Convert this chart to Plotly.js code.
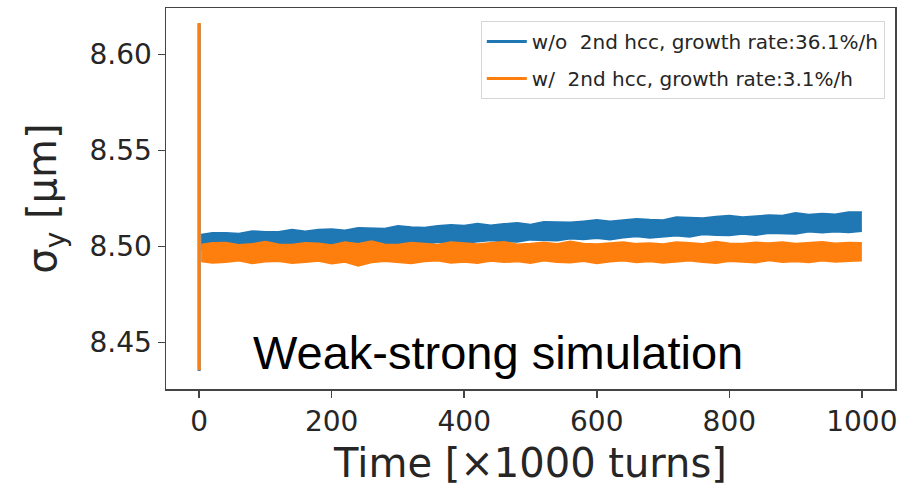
<!DOCTYPE html>
<html>
<head>
<meta charset="utf-8">
<script src="https://cdn.plot.ly/plotly-3.0.1.min.js"></script>
<style>html,body{margin:0;padding:0;background:#fff;}#chart{width:912px;height:496px;}</style>
</head>
<body>
<div id="chart"></div>
<script>
// Time samples [x1000 turns]
const time = [0,20,40,60,80,100,120,140,160,180,200,220,240,260,280,300,320,340,360,380,400,420,440,460,480,500,520,540,560,580,600,620,640,660,680,700,720,740,760,780,800,820,840,860,880,900,920,940,960,980,1000];
const bandStart = 3;

// w/o 2nd hcc : upper / lower envelope of the noisy trace (sigma_y, um)
const woUpper = [8.5063,8.5072,8.5072,8.5068,8.5081,8.5077,8.5077,8.5089,8.5080,8.5088,8.5091,8.5085,8.5098,8.5096,8.5094,8.5108,8.5101,8.5099,8.5108,8.5113,8.5109,8.5119,8.5111,8.5118,8.5123,8.5115,8.5129,8.5128,8.5126,8.5132,8.5139,8.5131,8.5138,8.5144,8.5140,8.5138,8.5154,8.5150,8.5148,8.5156,8.5161,8.5153,8.5160,8.5164,8.5161,8.5175,8.5167,8.5172,8.5168,8.5180,8.5180];
const woLower = [8.4984,8.4981,8.4992,8.4987,8.4986,8.4995,8.4994,8.5003,8.4993,8.5001,8.4999,8.5008,8.5006,8.5001,8.5013,8.5010,8.5016,8.5012,8.5023,8.5019,8.5017,8.5025,8.5032,8.5025,8.5024,8.5035,8.5033,8.5031,8.5041,8.5037,8.5043,8.5036,8.5046,8.5052,8.5045,8.5050,8.5056,8.5050,8.5063,8.5059,8.5058,8.5065,8.5059,8.5070,8.5067,8.5066,8.5077,8.5072,8.5077,8.5073,8.5080];

// w/ 2nd hcc : upper / lower envelope
const wUpper = [8.5011,8.5019,8.5021,8.5009,8.5014,8.5026,8.5012,8.5010,8.5020,8.5017,8.5008,8.5023,8.5015,8.5029,8.5012,8.5011,8.5021,8.5016,8.5010,8.5024,8.5018,8.5013,8.5019,8.5025,8.5012,8.5015,8.5022,8.5014,8.5027,8.5016,8.5013,8.5020,8.5024,8.5015,8.5018,8.5013,8.5023,8.5019,8.5014,8.5026,8.5017,8.5015,8.5022,8.5018,8.5024,8.5016,8.5020,8.5025,8.5017,8.5021,8.5019];
const wLower = [8.4923,8.4915,8.4919,8.4926,8.4912,8.4921,8.4924,8.4913,8.4918,8.4925,8.4911,8.4920,8.4899,8.4917,8.4924,8.4919,8.4912,8.4922,8.4926,8.4915,8.4920,8.4913,8.4925,8.4918,8.4922,8.4914,8.4927,8.4919,8.4916,8.4924,8.4912,8.4921,8.4926,8.4917,8.4923,8.4915,8.4920,8.4927,8.4918,8.4914,8.4924,8.4921,8.4916,8.4928,8.4919,8.4923,8.4917,8.4926,8.4920,8.4924,8.4927];

// Initial transient at t = 0
const spikeTime = [0,0,0];
const woSpike = [8.5030,8.6160,8.4353];
const wSpike = [8.4970,8.6163,8.4357];

const names = ['w/o\u00a0 2nd hcc, growth rate:36.1%/h', 'w/\u00a0 2nd hcc, growth rate:3.1%/h'];
const xTicks = [0,200,400,600,800,1000];
const yTicks = [8.45,8.50,8.55,8.60];

const blue = '#1f77b4', orange = '#ff7f0e';
const bx = time.map(t => Math.max(t, bandStart));

const traces = [
  {x: spikeTime, y: woSpike, mode:'lines', line:{color:blue, width:3}, name:names[0], legendgroup:'a', showlegend:true, hoverinfo:'skip'},
  {x: bx, y: woUpper, mode:'lines', line:{color:blue, width:1.6}, legendgroup:'a', showlegend:false, hoverinfo:'skip'},
  {x: bx, y: woLower, mode:'lines', line:{color:blue, width:1.6}, fill:'tonexty', fillcolor:blue, legendgroup:'a', showlegend:false, hoverinfo:'skip'},
  {x: bx, y: wUpper, mode:'lines', line:{color:orange, width:1.6}, legendgroup:'b', showlegend:false, hoverinfo:'skip'},
  {x: bx, y: wLower, mode:'lines', line:{color:orange, width:1.6}, fill:'tonexty', fillcolor:orange, legendgroup:'b', showlegend:false, hoverinfo:'skip'},
  {x: spikeTime, y: wSpike, mode:'lines', line:{color:orange, width:3}, name:names[1], legendgroup:'b', showlegend:true, hoverinfo:'skip'}
];

const layout = {
  width:912, height:496,
  margin:{l:166, r:17, t:8, b:107},
  paper_bgcolor:'#fff', plot_bgcolor:'#fff',
  showlegend:true,
  xaxis:{
    range:[-50,1050], tickvals:xTicks, ticks:'outside', ticklen:7, tickwidth:1.5, tickcolor:'#444',
    showline:true, mirror:true, linecolor:'#444', linewidth:1.5, showgrid:false, zeroline:false,
    tickfont:{family:'DejaVu Sans', size:28, color:'#262626'},
    title:{text:'Time [\u00d71000 turns]', font:{family:'DejaVu Sans', size:40, color:'#262626'}, standoff:12}
  },
  yaxis:{
    range:[8.4259,8.6241], tickvals:yTicks, tickformat:'.2f', ticks:'outside', ticklen:7, tickwidth:1.5, tickcolor:'#444',
    showline:true, mirror:true, linecolor:'#444', linewidth:1.5, showgrid:false, zeroline:false,
    tickfont:{family:'DejaVu Sans', size:28, color:'#262626'},
    title:{text:'\u03c3<sub>y</sub> [\u03bcm]', font:{family:'DejaVu Sans', size:40, color:'#262626'}, standoff:20}
  },
  legend:{
    x:0.986, xanchor:'right', y:0.966, yanchor:'top',
    bgcolor:'#fff', bordercolor:'#d6d6d6', borderwidth:1,
    font:{family:'DejaVu Sans', size:20, color:'#262626'},
    traceorder:'grouped', tracegroupgap:8, itemwidth:40
  },
  annotations:[{
    text:'Weak-strong simulation', xref:'paper', yref:'paper', x:0.116, y:0.097,
    xanchor:'left', yanchor:'middle', showarrow:false,
    font:{family:'Liberation Sans', size:47, color:'#000'}
  }]
};

Plotly.newPlot('chart', traces, layout, {displayModeBar:false, staticPlot:true});
</script>
</body>
</html>
